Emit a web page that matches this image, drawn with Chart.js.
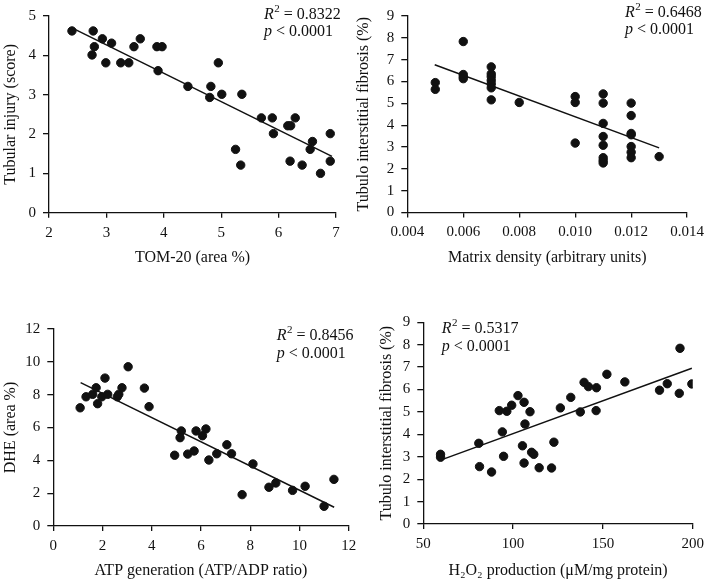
<!DOCTYPE html>
<html>
<head>
<meta charset="utf-8">
<script src="https://cdn.jsdelivr.net/npm/chart.js@4.4.1/dist/chart.umd.min.js"></script>
<style>
  body { margin: 0; background: #fff; }
  #wrap { position: relative; width: 710px; height: 582px; overflow: hidden; background: #fff; }
  #wrap canvas { position: absolute; }
</style>
</head>
<body>
<div id="wrap">
  <canvas id="tomChart" width="355" height="271" style="left:0px;top:0px"></canvas>
  <canvas id="matrixChart" width="358" height="271" style="left:352px;top:0px"></canvas>
  <canvas id="atpChart" width="370" height="282" style="left:0px;top:300px"></canvas>
  <canvas id="h2o2Chart" width="336" height="282" style="left:374px;top:300px"></canvas>
</div>
<script>
// top-left: tubular injury vs TOM-20
const tomX = [2.40, 2.77, 2.79, 2.75, 2.93, 2.99, 3.09, 3.25, 3.39, 3.48, 3.59, 3.88, 3.97, 3.90, 4.42, 4.82, 4.80, 4.95,
  5.01, 5.36, 5.25, 5.34, 5.70, 5.89, 5.91, 6.16, 6.21, 6.29, 6.20, 6.41, 6.59, 6.55, 6.73, 6.90, 6.90];
const tomY = [4.62, 4.62, 4.22, 4.01, 4.42, 3.81, 4.31, 3.81, 3.81, 4.22, 4.42, 4.22, 4.22, 3.61, 3.21, 3.21, 2.93, 3.81,
  3.01, 3.01, 1.61, 1.21, 2.41, 2.41, 2.01, 2.21, 2.21, 2.41, 1.31, 1.21, 1.81, 1.61, 1.00, 2.01, 1.31];
const tomFitX = [2.40, 6.93];
const tomFitY = [4.70, 1.43];

// top-right: fibrosis vs matrix density
const matrixX = [0.005, 0.005, 0.006, 0.006, 0.006, 0.006, 0.007, 0.007, 0.007, 0.007, 0.007, 0.007, 0.007, 0.008,
  0.010, 0.010, 0.010, 0.011, 0.011, 0.011, 0.011, 0.011, 0.011, 0.011, 0.011,
  0.012, 0.012, 0.012, 0.012, 0.012, 0.012, 0.012, 0.013];
const matrixY = [5.95, 5.64, 7.83, 6.32, 6.22, 6.13, 6.67, 6.35, 6.22, 6.05, 5.89, 5.71, 5.16, 5.04,
  5.31, 5.04, 3.18, 5.43, 5.01, 4.08, 3.48, 3.08, 2.51, 2.38, 2.27,
  5.01, 4.44, 3.62, 3.56, 3.02, 2.76, 2.51, 2.56];
const matrixFitX = [0.00498, 0.0130];
const matrixFitY = [6.77, 2.96];

// bottom-left: DHE vs ATP generation
const atpX = [1.09, 1.33, 1.60, 1.74, 1.80, 1.97, 2.10, 2.21, 2.60, 2.66, 2.79, 3.04, 3.70, 3.89, 4.93, 5.20, 5.15,
  5.46, 5.72, 5.80, 6.06, 6.20, 6.32, 6.64, 7.05, 7.24, 7.67, 8.11, 8.76, 9.04, 9.72, 10.23, 11.00, 11.40];
const atpY = [7.20, 7.87, 8.02, 8.42, 7.45, 7.87, 9.01, 8.02, 7.87, 8.02, 8.42, 9.70, 8.40, 7.27, 4.31, 5.79, 5.38,
  4.38, 4.57, 5.79, 5.50, 5.91, 4.02, 4.40, 4.95, 4.40, 1.91, 3.78, 2.36, 2.62, 2.17, 2.42, 1.20, 2.84];
const atpFitX = [1.11, 11.41];
const atpFitY = [8.73, 1.14];

// bottom-right: fibrosis vs H2O2 production
const h2o2X = [59.6, 59.6, 80.9, 81.3, 88.0, 92.3, 94.0, 94.7, 96.5, 99.2, 102.7, 105.2, 106.1, 106.6, 106.1, 109.4,
  110.3, 111.5, 114.5, 121.4, 122.7, 126.3, 132.1, 137.4, 139.5, 141.9, 146.4, 146.2, 152.2, 162.2, 181.5, 185.8,
  192.5, 192.9, 199.5];
const h2o2Y = [3.11, 2.98, 3.60, 2.56, 2.32, 5.06, 4.11, 3.02, 5.03, 5.30, 5.73, 3.49, 5.43, 4.46, 2.72, 5.01,
  3.20, 3.11, 2.51, 2.50, 3.65, 5.18, 5.65, 5.00, 6.32, 6.13, 6.08, 5.06, 6.68, 6.34, 5.97, 6.26,
  5.83, 7.84, 6.25];
const h2o2FitX = [60.0, 199.5];
const h2o2FitY = [2.86, 6.95];

const ink = "#111";
const serif = "'Liberation Serif', 'Times New Roman', serif";

function toPoints(xs, ys) {
  return xs.map((x, i) => ({ x: x, y: ys[i] }));
}

// R^2 / p annotation drawn on the canvas
const statsText = {
  id: "statsText",
  afterDraw(chart, args, opts) {
    const ctx = chart.ctx;
    ctx.save();
    ctx.fillStyle = ink;
    ctx.textBaseline = "alphabetic";
    let x = opts.x;
    const y = opts.y;
    ctx.font = "italic 16px " + serif;
    ctx.fillText("R", x, y);
    x += ctx.measureText("R").width + 0.5;
    ctx.font = "11px " + serif;
    ctx.fillText("2", x, y - 7);
    x += ctx.measureText("2").width;
    ctx.font = "16px " + serif;
    ctx.fillText(" = " + opts.r2, x, y);
    ctx.font = "italic 16px " + serif;
    ctx.fillText("p", opts.x, y + 17.5);
    const pw = ctx.measureText("p").width;
    ctx.font = "16px " + serif;
    ctx.fillText(" < 0.0001", opts.x + pw, y + 17.5);
    ctx.restore();
  }
};

function makeChart(id, cfg) {
  const tickFont = { family: serif, size: 15 };
  const titleFont = { family: serif, size: 16 };
  return new Chart(document.getElementById(id), {
    type: "scatter",
    data: {
      datasets: [
        { data: toPoints(cfg.xs, cfg.ys), backgroundColor: ink, borderColor: ink, pointRadius: 4.2, pointHoverRadius: 4.2 },
        { type: "line", data: toPoints(cfg.fitX, cfg.fitY), borderColor: ink, borderWidth: 1.5, pointRadius: 0, fill: false }
      ]
    },
    options: {
      responsive: false,
      animation: false,
      events: [],
      layout: { padding: { left: 0, top: cfg.padTop, right: cfg.padRight, bottom: 0 } },
      plugins: {
        legend: { display: false },
        tooltip: { enabled: false },
        statsText: cfg.stats
      },
      scales: {
        x: {
          type: "linear", min: cfg.xMin, max: cfg.xMax,
          ticks: { stepSize: cfg.xStep, color: ink, font: tickFont, padding: 6, maxRotation: 0, autoSkip: false,
            callback: cfg.xFmt || (v => v) },
          grid: { drawOnChartArea: false, color: ink, lineWidth: 1.3, tickLength: 5 },
          border: { color: ink, width: 1.3 },
          title: { display: true, text: cfg.xTitle, color: ink, font: titleFont, padding: { top: 4, bottom: cfg.xTitlePad } },
          afterFit: s => { s.height = cfg.xH; }
        },
        y: {
          type: "linear", min: cfg.yMin, max: cfg.yMax,
          ticks: { stepSize: cfg.yStep, color: ink, font: tickFont, padding: 7, autoSkip: false },
          grid: { drawOnChartArea: false, color: ink, lineWidth: 1.3, tickLength: 6 },
          border: { color: ink, width: 1.3 },
          title: { display: true, text: cfg.yTitle, color: ink, font: titleFont, padding: { top: cfg.yTitlePad, bottom: 4 } },
          afterFit: s => { s.width = cfg.yW; }
        }
      }
    },
    plugins: [statsText]
  });
}

makeChart("tomChart", {
  xs: tomX, ys: tomY, fitX: tomFitX, fitY: tomFitY,
  xMin: 2, xMax: 7, xStep: 1, yMin: 0, yMax: 5, yStep: 1,
  xTitle: "TOM-20 (area %)", yTitle: "Tubular injury (score)",
  padTop: 15, padRight: 19, xH: 58.3, yW: 49, xTitlePad: 4, yTitlePad: 1,
  stats: { x: 264, y: 18.5, r2: "0.8322" }
});

makeChart("matrixChart", {
  xs: matrixX, ys: matrixY, fitX: matrixFitX, fitY: matrixFitY,
  xMin: 0.004, xMax: 0.014, xStep: 0.002, yMin: 0, yMax: 9, yStep: 1,
  xFmt: v => Number(v).toFixed(3),
  xTitle: "Matrix density (arbitrary units)", yTitle: "Tubulo interstitial fibrosis (%)",
  padTop: 11.7, padRight: 20, xH: 58.5, yW: 55.3, xTitlePad: 4, yTitlePad: 2,
  stats: { x: 273, y: 16.5, r2: "0.6468" }
});

makeChart("atpChart", {
  xs: atpX, ys: atpY, fitX: atpFitX, fitY: atpFitY,
  xMin: 0, xMax: 12, xStep: 2, yMin: 0, yMax: 12, yStep: 2,
  xTitle: "ATP generation (ATP/ADP ratio)", yTitle: "DHE (area %)",
  padTop: 29, padRight: 21.3, xH: 56, yW: 53.3, xTitlePad: 1.5, yTitlePad: 1,
  stats: { x: 276.7, y: 40, r2: "0.8456" }
});

makeChart("h2o2Chart", {
  xs: h2o2X, ys: h2o2Y, fitX: h2o2FitX, fitY: h2o2FitY,
  xMin: 50, xMax: 200, xStep: 50, yMin: 0, yMax: 9, yStep: 1,
  xTitle: "H₂O₂ production (μM/mg protein)", yTitle: "Tubulo interstitial fibrosis (%)",
  padTop: 22.3, padRight: 11.3, xH: 58, yW: 49.3, xTitlePad: 1.5, yTitlePad: 3,
  stats: { x: 67.7, y: 33, r2: "0.5317" }
});
</script>
</body>
</html>
